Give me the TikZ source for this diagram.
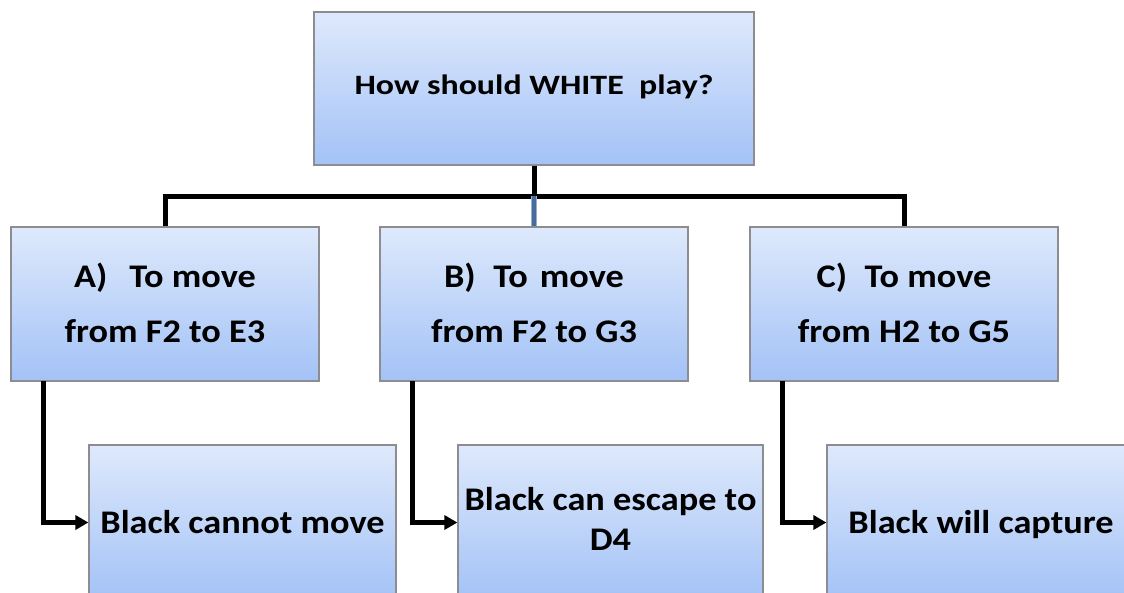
\documentclass[tikz,border=0pt]{standalone}
\usepackage{fontspec}
\usepackage{graphicx}
\setmainfont{Carlito}
\usetikzlibrary{arrows.meta}
\definecolor{boxtop}{RGB}{222,233,252}
\definecolor{boxbot}{RGB}{163,194,246}
\definecolor{boxline}{RGB}{140,140,145}
\definecolor{stemblue}{RGB}{70,108,158}
\newcommand{\wtxt}[2]{\scalebox{#1}[1]{\begin{tabular}{@{}c@{}}#2\end{tabular}}}
\tikzset{
  box/.style={draw=boxline, line width=1.2pt, top color=boxtop, bottom color=boxbot,
    minimum width=308pt, minimum height=154pt, inner sep=0pt, align=center,
    font=\bfseries\fontsize{33}{55}\selectfont},
  conn/.style={line width=5pt, black},
  arr/.style={conn, -{Triangle[length=13pt,width=14pt]}},
}
\begin{document}
\begin{tikzpicture}[x=1pt,y=-1pt]
\useasboundingbox (0,0) rectangle (1124,592);
\clip (0,0) rectangle (1124,592);
% nodes
\node[box, minimum width=440pt, minimum height=153pt, font=\bfseries\fontsize{28}{30}\selectfont] (top) at (534,88.5) {\wtxt{1.21}{How should WHITE\ \ play?}};
\node[box] (A) at (165,304) {\wtxt{1.1}{A)\hspace{20pt}To move\\from F2 to E3}};
\node[box] (B) at (534,304) {\wtxt{1.1}{B)\hspace{16pt}To\hspace{11pt}move\\from F2 to G3}};
\node[box] (C) at (904,304) {\wtxt{1.1}{C)\hspace{16pt}To move\\from H2 to G5}};
\node[box, minimum width=307pt, minimum height=155pt] (R1) at (242.5,522.5) {\wtxt{1.1}{Black cannot move}};
\node[box, minimum width=305pt, minimum height=155pt, font=\bfseries\fontsize{33}{40}\selectfont] (R2) at (610.5,522.5) {\wtxt{1.1}{Black can escape to\\D4}};
\node[box, minimum width=308pt, minimum height=155pt] (R3) at (981,522.5) {\wtxt{1.1}{Black will capture}};
% coordinates
\coordinate (bus) at (534,196);
\coordinate (As) at (43,381);
\coordinate (Bs) at (412,381);
\coordinate (Cs) at (782,381);
% tree connectors
\draw[conn] (top.south) -- (bus);
\draw[conn] (A.north) |- (bus) -| (C.north);
\draw[line width=6pt, stemblue!55] (bus) -- (B.north);
\draw[line width=3.5pt, stemblue] (bus) -- (B.north);
% arrows
\draw[arr] (As) |- (R1.west);
\draw[arr] (Bs) |- (R2.west);
\draw[arr] (Cs) |- (R3.west);
\end{tikzpicture}
\end{document}
